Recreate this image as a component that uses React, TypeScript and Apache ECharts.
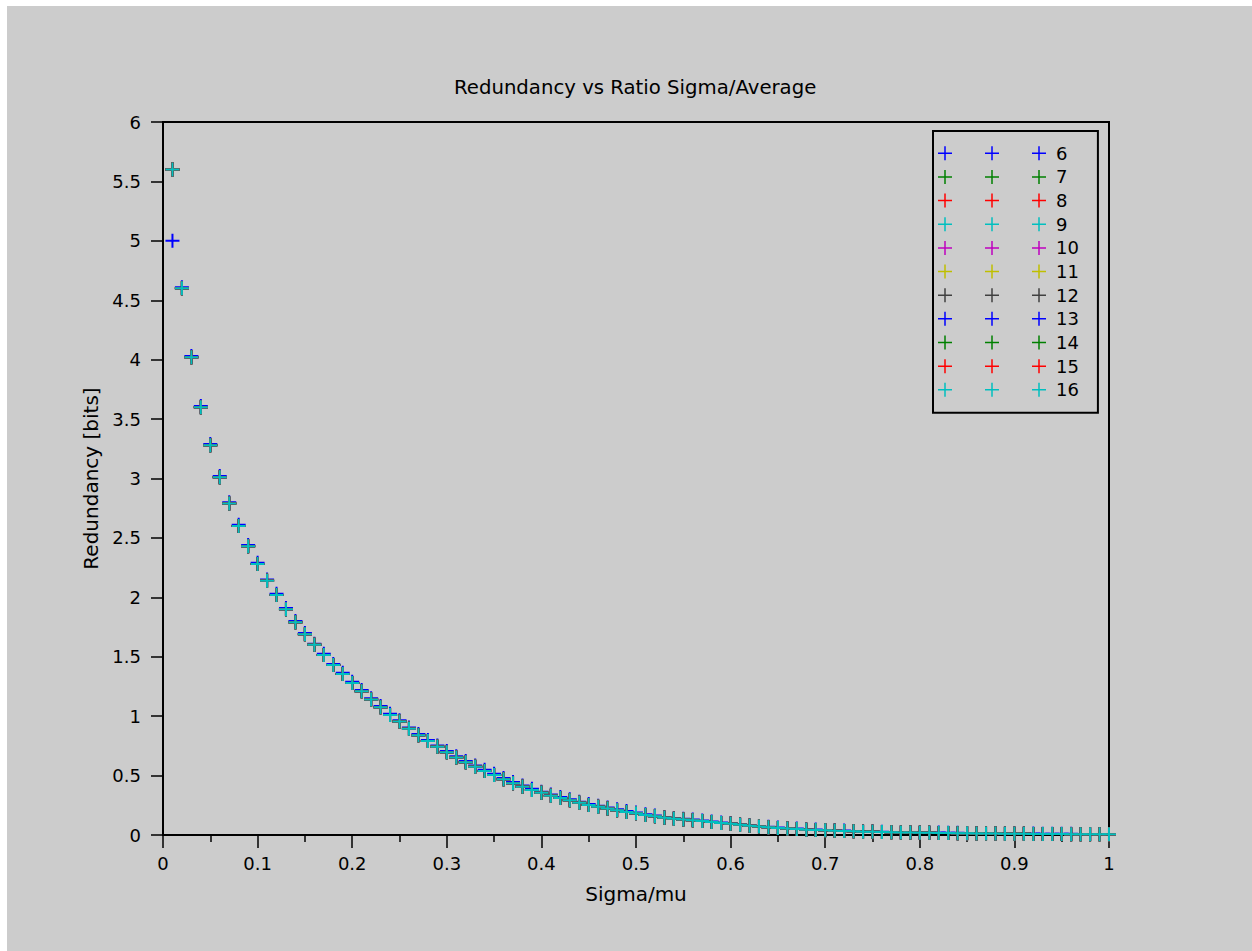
import React, { useEffect, useRef } from "react";
import * as echarts from "echarts";

const sigmaRatio = [
  0.01, 0.02, 0.03, 0.04, 0.05, 0.06, 0.07, 0.08, 0.09, 0.1,
  0.11, 0.12, 0.13, 0.14, 0.15, 0.16, 0.17, 0.18, 0.19, 0.2,
  0.21, 0.22, 0.23, 0.24, 0.25, 0.26, 0.27, 0.28, 0.29, 0.3,
  0.31, 0.32, 0.33, 0.34, 0.35, 0.36, 0.37, 0.38, 0.39, 0.4,
  0.41, 0.42, 0.43, 0.44, 0.45, 0.46, 0.47, 0.48, 0.49, 0.5,
  0.51, 0.52, 0.53, 0.54, 0.55, 0.56, 0.57, 0.58, 0.59, 0.6,
  0.61, 0.62, 0.63, 0.64, 0.65, 0.66, 0.67, 0.68, 0.69, 0.7,
  0.71, 0.72, 0.73, 0.74, 0.75, 0.76, 0.77, 0.78, 0.79, 0.8,
  0.81, 0.82, 0.83, 0.84, 0.85, 0.86, 0.87, 0.88, 0.89, 0.9,
  0.91, 0.92, 0.93, 0.94, 0.95, 0.96, 0.97, 0.98, 0.99, 1.0,
];

// redundancy for 6 bits
const redundancy6 = [
  5.0, 4.61, 4.03, 3.61, 3.29, 3.02, 2.8, 2.61, 2.44, 2.29,
  2.15, 2.03, 1.91, 1.8, 1.7, 1.61, 1.525, 1.44, 1.365, 1.29,
  1.22, 1.15, 1.085, 1.02, 0.965, 0.905, 0.85, 0.8, 0.753, 0.706,
  0.662, 0.622, 0.585, 0.549, 0.515, 0.479, 0.446, 0.416, 0.389, 0.365,
  0.34, 0.32, 0.3, 0.28, 0.261, 0.246, 0.232, 0.216, 0.201, 0.19,
  0.175, 0.164, 0.152, 0.143, 0.137, 0.13, 0.122, 0.114, 0.106, 0.1,
  0.091, 0.083, 0.076, 0.069, 0.063, 0.058, 0.054, 0.049, 0.046, 0.043,
  0.04, 0.037, 0.034, 0.031, 0.03, 0.028, 0.026, 0.024, 0.023, 0.022,
  0.021, 0.02, 0.019, 0.018, 0.017, 0.016, 0.015, 0.014, 0.013, 0.013,
  0.012, 0.012, 0.011, 0.011, 0.01, 0.01, 0.009, 0.009, 0.009, 0.009,
];

// redundancy for 7..16 bits (curves coincide in the picture)
const redundancyHigh = [
  5.6, 4.6, 4.02, 3.6, 3.28, 3.01, 2.79, 2.6, 2.43, 2.28,
  2.14, 2.02, 1.9, 1.79, 1.69, 1.6, 1.515, 1.43, 1.355, 1.28,
  1.21, 1.14, 1.075, 1.01, 0.955, 0.895, 0.84, 0.79, 0.743, 0.696,
  0.652, 0.612, 0.575, 0.539, 0.505, 0.469, 0.436, 0.406, 0.379, 0.356,
  0.331, 0.311, 0.292, 0.272, 0.253, 0.238, 0.224, 0.208, 0.194, 0.183,
  0.168, 0.157, 0.146, 0.137, 0.131, 0.124, 0.117, 0.109, 0.101, 0.095,
  0.086, 0.078, 0.071, 0.065, 0.059, 0.054, 0.05, 0.045, 0.042, 0.039,
  0.036, 0.034, 0.031, 0.028, 0.027, 0.025, 0.023, 0.021, 0.02, 0.019,
  0.018, 0.017, 0.016, 0.015, 0.014, 0.013, 0.012, 0.012, 0.011, 0.01,
  0.01, 0.009, 0.009, 0.008, 0.008, 0.007, 0.007, 0.006, 0.006, 0.006,
];

const seriesNames = ["6", "7", "8", "9", "10", "11", "12", "13", "14", "15", "16"];
const seriesColors = [
  "#0000ff", "#008000", "#ff0000", "#00bfbf", "#bf00bf", "#bfbf00",
  "#404040", "#0000ff", "#008000", "#ff0000", "#00bfbf",
];
const xTicks = { min: 0, max: 1, interval: 0.1 };
const yTicks = { min: 0, max: 6, interval: 0.5 };

const PLUS = "path://M0 6H14V8H0Z M6 0H8V14H6Z";
const PLUS3 =
  "path://M0 6.25H14V7.75H0Z M6.25 0H7.75V14H6.25Z M47 6.25H61V7.75H47Z M53.25 0H54.75V14H53.25Z M94 6.25H108V7.75H94Z M100.25 0H101.75V14H100.25Z";

export default function App() {
  const ref = useRef<HTMLDivElement>(null);
  useEffect(() => {
    if (!ref.current) return;
    const chart = echarts.init(ref.current, null, { renderer: "svg" });
    const font = "DejaVu Sans";
    const series = seriesNames.map((name, i) => {
      const ys = i === 0 ? redundancy6 : redundancyHigh;
      return {
        name,
        type: "scatter",
        symbol: PLUS,
        symbolSize: 14,
        itemStyle: { color: seriesColors[i], opacity: 1 },
        emphasis: { disabled: true },
        clip: true,
        data: sigmaRatio.map((x, k) => [x, ys[k]]),
      };
    });
    chart.setOption({
      animation: false,
      backgroundColor: "#cccccc",
      textStyle: { fontFamily: font, color: "#000" },
      title: {
        text: "Redundancy vs Ratio Sigma/Average",
        left: 447,
        top: 71,
        padding: 0,
        textStyle: { fontFamily: font, fontSize: 19.7, fontWeight: "normal", color: "#000" },
      },
      grid: {
        left: 156,
        top: 116,
        width: 946,
        height: 713,
        show: true,
        borderColor: "#000",
        borderWidth: 2,
        backgroundColor: "transparent",
      },
      legend: {
        orient: "vertical",
        left: 926,
        top: 125,
        icon: PLUS3,
        itemWidth: 108,
        itemHeight: 14,
        itemGap: 5.65,
        selectedMode: false,
        padding: [13.3, 19, 14, 5],
        borderColor: "#000",
        borderWidth: 2,
        data: seriesNames,
        textStyle: {
          fontFamily: font,
          fontSize: 18,
          color: "#000",
          padding: [0, 0, 0, 5],
        },
      },
      xAxis: {
        type: "value",
        ...xTicks,
        name: "Sigma/mu",
        nameLocation: "middle",
        nameGap: 49,
        nameTextStyle: { fontFamily: font, fontSize: 20, color: "#000" },
        axisLine: { show: true, lineStyle: { color: "#000", width: 2 } },
        axisTick: { show: true, inside: false, length: 13, lineStyle: { color: "#000", width: 1.5 } },
        minorTick: { show: true, splitNumber: 2, length: 7, lineStyle: { color: "#000", width: 1.5 } },
        splitLine: { show: false },
        axisLabel: { fontFamily: font, fontSize: 18, color: "#000", margin: 19 },
      },
      yAxis: {
        type: "value",
        ...yTicks,
        name: "Redundancy [bits]",
        nameLocation: "middle",
        nameGap: 62,
        nameTextStyle: { fontFamily: font, fontSize: 20, color: "#000" },
        axisLine: { show: true, lineStyle: { color: "#000", width: 2 } },
        axisTick: { show: true, inside: false, length: 12, lineStyle: { color: "#000", width: 1.5 } },
        splitLine: { show: false },
        axisLabel: { fontFamily: font, fontSize: 18, color: "#000", margin: 22 },
      },
      series,
    });
    return () => chart.dispose();
  }, []);
  return (
    <div
      ref={ref}
      style={{ position: "fixed", left: 7, top: 6, width: 1245, height: 945 }}
    />
  );
}
